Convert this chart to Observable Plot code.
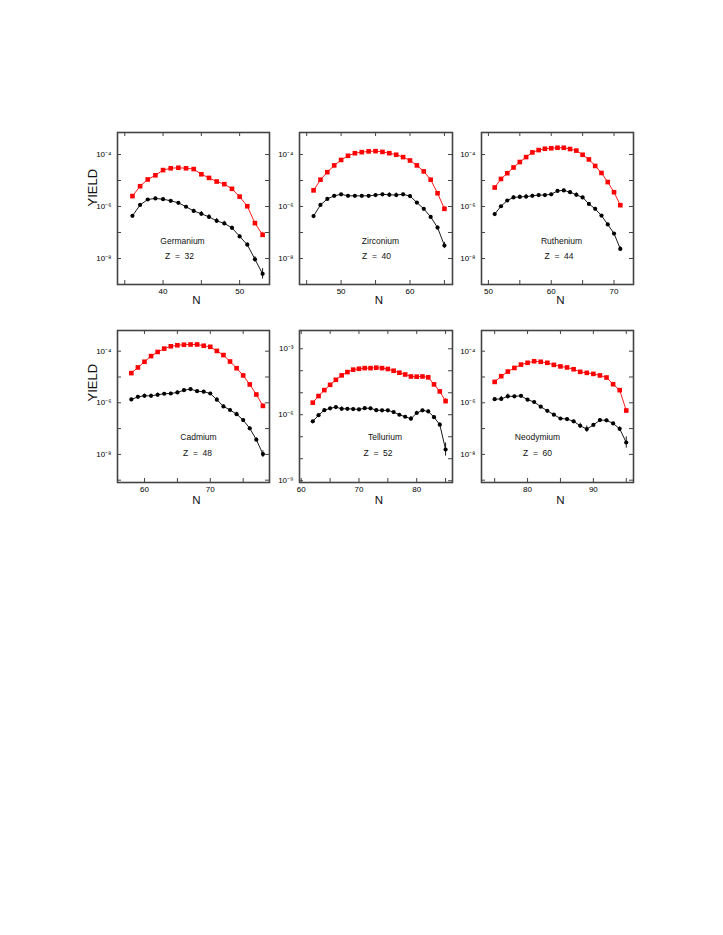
<!DOCTYPE html>
<html><head><meta charset="utf-8">
<script src="https://cdn.jsdelivr.net/npm/d3@7"></script>
<script src="https://cdn.jsdelivr.net/npm/@observablehq/plot@0.6"></script>
<style>
body{margin:0;background:#fff}
#chart{position:relative;width:723px;height:935px;background:#fff;overflow:hidden}
#chart svg{position:absolute;overflow:visible}
</style></head><body><div id="chart"></div>
<script>
// ---- Data (log10 of yield; error half-widths in dex) ----
const elements = ["Germanium", "Zirconium", "Ruthenium", "Cadmium", "Tellurium", "Neodymium"];
const zValues = [32, 40, 44, 48, 52, 60];

const geN = [36,37,38,39,40,41,42,43,44,45,46,47,48,49,50,51,52,53];
const geRed = [-5.60,-5.22,-4.96,-4.80,-4.60,-4.53,-4.51,-4.53,-4.56,-4.76,-4.90,-5.04,-5.14,-5.32,-5.62,-5.99,-6.64,-7.09];
const geRedErr = [0.03,0.03,0.03,0.03,0.03,0.03,0.03,0.03,0.03,0.03,0.03,0.03,0.03,0.04,0.04,0.05,0.07,0.10];
const geBlack = [-6.36,-5.94,-5.73,-5.69,-5.72,-5.78,-5.86,-6.01,-6.17,-6.28,-6.40,-6.55,-6.65,-6.82,-7.15,-7.47,-8.03,-8.59];
const geBlackErr = [0.03,0.03,0.03,0.04,0.04,0.04,0.04,0.05,0.06,0.09,0.09,0.09,0.08,0.07,0.06,0.07,0.10,0.20];

const zrN = [46,47,48,49,50,51,52,53,54,55,56,57,58,59,60,61,62,63,64,65];
const zrRed = [-5.38,-4.97,-4.68,-4.42,-4.21,-4.05,-3.95,-3.91,-3.88,-3.87,-3.90,-3.95,-4.01,-4.10,-4.23,-4.42,-4.65,-4.97,-5.49,-6.09];
const zrRedErr = [0.08,0.03,0.03,0.03,0.03,0.03,0.03,0.03,0.03,0.03,0.03,0.03,0.03,0.03,0.03,0.03,0.03,0.04,0.06,0.08];
const zrBlack = [-6.37,-5.94,-5.71,-5.59,-5.53,-5.59,-5.59,-5.59,-5.59,-5.56,-5.53,-5.55,-5.56,-5.53,-5.60,-5.85,-6.09,-6.40,-6.81,-7.50];
const zrBlackErr = [0.03,0.03,0.03,0.03,0.03,0.03,0.03,0.03,0.03,0.04,0.04,0.08,0.08,0.05,0.04,0.04,0.05,0.05,0.06,0.12];

const ruN = [51,52,53,54,55,56,57,58,59,60,61,62,63,64,65,66,67,68,69,70,71];
const ruRed = [-5.27,-4.94,-4.72,-4.50,-4.29,-4.10,-3.92,-3.83,-3.78,-3.76,-3.74,-3.74,-3.79,-3.85,-4.01,-4.19,-4.44,-4.71,-5.06,-5.45,-5.95];
const ruRedErr = [0.03,0.03,0.03,0.03,0.03,0.03,0.03,0.03,0.03,0.03,0.03,0.03,0.03,0.03,0.03,0.03,0.03,0.03,0.04,0.04,0.06];
const ruBlack = [-6.29,-5.99,-5.77,-5.65,-5.63,-5.62,-5.59,-5.56,-5.56,-5.53,-5.40,-5.38,-5.45,-5.55,-5.65,-5.90,-6.09,-6.35,-6.69,-7.04,-7.63];
const ruBlackErr = [0.03,0.03,0.04,0.06,0.07,0.09,0.06,0.04,0.04,0.04,0.04,0.04,0.05,0.08,0.04,0.04,0.06,0.04,0.04,0.04,0.08];

const cdN = [58,59,60,61,62,63,64,65,66,67,68,69,70,71,72,73,74,75,76,77,78];
const cdRed = [-4.85,-4.63,-4.41,-4.19,-4.03,-3.90,-3.81,-3.77,-3.75,-3.74,-3.74,-3.79,-3.83,-3.99,-4.15,-4.40,-4.66,-4.94,-5.29,-5.68,-6.12];
const cdRedErr = [0.03,0.03,0.03,0.03,0.03,0.03,0.03,0.03,0.03,0.03,0.03,0.03,0.03,0.03,0.03,0.03,0.03,0.03,0.04,0.05,0.07];
const cdBlack = [-5.87,-5.77,-5.73,-5.73,-5.69,-5.65,-5.64,-5.60,-5.51,-5.47,-5.55,-5.57,-5.64,-5.88,-6.14,-6.28,-6.44,-6.67,-6.99,-7.43,-7.99];
const cdBlackErr = [0.03,0.06,0.07,0.07,0.07,0.05,0.05,0.05,0.05,0.05,0.04,0.05,0.05,0.08,0.05,0.06,0.07,0.05,0.05,0.07,0.13];

const teN = [62,63,64,65,66,67,68,69,70,71,72,73,74,75,76,77,78,79,80,81,82,83,84,85];
const teRed = [-5.45,-5.15,-4.88,-4.64,-4.41,-4.21,-4.06,-3.95,-3.91,-3.88,-3.88,-3.86,-3.88,-3.92,-4.00,-4.09,-4.17,-4.26,-4.27,-4.26,-4.30,-4.62,-4.94,-5.38];
const teRedErr = [0.04,0.04,0.04,0.04,0.04,0.04,0.04,0.04,0.04,0.04,0.04,0.04,0.04,0.04,0.04,0.04,0.04,0.04,0.04,0.04,0.04,0.05,0.06,0.12];
const teBlack = [-6.30,-6.02,-5.79,-5.71,-5.65,-5.73,-5.73,-5.74,-5.76,-5.70,-5.71,-5.79,-5.80,-5.80,-5.88,-6.00,-6.09,-6.18,-5.92,-5.80,-5.85,-6.11,-6.45,-7.58];
const teBlackErr = [0.04,0.04,0.04,0.04,0.05,0.09,0.05,0.05,0.05,0.05,0.05,0.05,0.05,0.05,0.05,0.05,0.06,0.10,0.08,0.05,0.06,0.06,0.08,0.30];

const ndN = [75,76,77,78,79,80,81,82,83,84,85,86,87,88,89,90,91,92,93,94,95];
const ndRed = [-5.19,-4.97,-4.79,-4.65,-4.52,-4.45,-4.39,-4.41,-4.45,-4.53,-4.59,-4.63,-4.70,-4.80,-4.84,-4.88,-4.94,-5.02,-5.28,-5.51,-6.30];
const ndRedErr = [0.03,0.03,0.03,0.03,0.03,0.03,0.03,0.03,0.03,0.03,0.03,0.03,0.03,0.03,0.03,0.03,0.03,0.03,0.04,0.04,0.05];
const ndBlack = [-5.86,-5.85,-5.75,-5.75,-5.73,-5.88,-5.97,-6.15,-6.31,-6.46,-6.61,-6.63,-6.72,-6.89,-7.02,-6.86,-6.67,-6.68,-6.80,-7.01,-7.54];
const ndBlackErr = [0.05,0.10,0.09,0.05,0.05,0.04,0.04,0.04,0.04,0.04,0.04,0.04,0.05,0.10,0.12,0.05,0.06,0.05,0.05,0.08,0.22];

// Tick values
const xTickStep = 5, xLabelStep = 10;
const yLabelsStd = [-8, -6, -4];
const yLabelsTe = [-9, -6, -3];

// ---- Layout (pixel frames in the page) ----
const layout = [
  {left:117, top:132, w:152, h:152, x:[34.05,53.9], y:[-9.0,-3.154], yl:yLabelsStd, nameDx:-11, zDx:-14, nameDy:-41, zDy:-26, yield:true, yieldDy:-2, nDy:19},
  {left:299, top:132, w:153, h:152, x:[43.96,66.17], y:[-9.0,-3.154], yl:yLabelsStd, nameDx:4.5, zDx:0.5, nameDy:-41, zDy:-26, nDy:19},
  {left:481, top:132, w:152, h:152, x:[48.9,73.1], y:[-9.0,-3.154], yl:yLabelsStd, nameDx:4, zDx:1.5, nameDy:-41, zDy:-26, nDy:19},
  {left:117, top:330, w:152, h:152, x:[55.9,79.0], y:[-9.09,-3.198], yl:yLabelsStd, nameDx:5, zDx:4, nameDy:-42.5, zDy:-27, yield:true, yieldDy:-5, nDy:21},
  {left:299, top:330, w:153, h:152, x:[59.7,86.2], y:[-9.08,-2.17], yl:yLabelsTe, nameDx:9, zDx:2, nameDy:-42.5, zDy:-27, nDy:21},
  {left:481, top:330, w:152, h:152, x:[73.0,96.1], y:[-9.09,-3.198], yl:yLabelsStd, nameDx:-20, zDx:-20, nameDy:-42.5, zDy:-27, nDy:21}
];

const series = [
  [geN, geRed, geRedErr, geBlack, geBlackErr],
  [zrN, zrRed, zrRedErr, zrBlack, zrBlackErr],
  [ruN, ruRed, ruRedErr, ruBlack, ruBlackErr],
  [cdN, cdRed, cdRedErr, cdBlack, cdBlackErr],
  [teN, teRed, teRedErr, teBlack, teBlackErr],
  [ndN, ndRed, ndRedErr, ndBlack, ndBlackErr]
];

const sup = {"-":"\u207B","0":"\u2070","1":"\u00B9","2":"\u00B2","3":"\u00B3","4":"\u2074","5":"\u2075","6":"\u2076","7":"\u2077","8":"\u2078","9":"\u2079"};
const fmtExp = d => "10" + String(Math.round(Math.log10(d))).split("").map(c => sup[c]).join("");

const FONT = "'Liberation Sans', Arial, Helvetica, sans-serif";
const NARROW = "'Liberation Sans Narrow', 'Liberation Sans', Arial, sans-serif";
const FRAME = "#444";
const RED = "#ff0000";
const M = {l:45, r:12, t:12, b:32};

const chart = document.getElementById("chart");

series.forEach(([N, red, redErr, black, blackErr], i) => {
  const L = layout[i];
  const redRows = N.map((n, j) => ({N: n, v: 10 ** red[j], lo: 10 ** (red[j] - redErr[j]), hi: 10 ** (red[j] + redErr[j])}));
  const blackRows = N.map((n, j) => ({N: n, v: 10 ** black[j], lo: 10 ** (black[j] - blackErr[j]), hi: 10 ** (black[j] + blackErr[j])}));
  const xTicks = d3.range(Math.ceil(L.x[0] / xTickStep) * xTickStep, L.x[1] + 1e-9, xTickStep);
  const xLabels = xTicks.filter(t => t % xLabelStep === 0);
  const yTicks = d3.range(Math.ceil(L.y[0] - 1e-6), Math.floor(L.y[1]) + 1).map(e => 10 ** e);
  const yLabels = L.yl.map(e => 10 ** e);

  const marks = [
    Plot.ruleY(yTicks, {y: d => d, insetRight: L.w - 4, stroke: FRAME, strokeWidth: 1}),
    Plot.ruleY(yTicks, {y: d => d, insetLeft: L.w - 4, stroke: FRAME, strokeWidth: 1}),
    Plot.ruleX(xTicks, {x: d => d, insetTop: L.h - 4, stroke: FRAME, strokeWidth: 1}),
    Plot.ruleX(xTicks, {x: d => d, insetBottom: L.h - 4, stroke: FRAME, strokeWidth: 1}),
    Plot.frame({stroke: FRAME, strokeWidth: 1.6}),
    Plot.axisY(yLabels, {tickSize: 0, tickPadding: 6, tickFormat: fmtExp, fontSize: 8, fill: "#000", label: null}),
    Plot.axisX(xLabels, {tickSize: 0, tickPadding: 4, tickFormat: d => String(d), fontSize: 8, fill: "#000", label: null}),
    // black series
    Plot.ruleX(blackRows, {x: "N", y1: "lo", y2: "hi", stroke: "#000", strokeWidth: 0.9}),
    Plot.line(blackRows, {x: "N", y: "v", stroke: "#000", strokeWidth: 0.9}),
    Plot.dot(blackRows, {x: "N", y: "v", r: 2.1, fill: "#000", stroke: "none"}),
    // red series
    Plot.ruleX(redRows, {x: "N", y1: "lo", y2: "hi", stroke: RED, strokeWidth: 0.9}),
    Plot.line(redRows, {x: "N", y: "v", stroke: RED, strokeWidth: 0.9}),
    Plot.dot(redRows, {x: "N", y: "v", symbol: "square", r: 2.6, fill: RED, stroke: "none"}),
    // labels
    Plot.text([elements[i]], {text: d => d, frameAnchor: "bottom", dx: L.nameDx, dy: L.nameDy, fontSize: 8.5, fill: "#111"}),
    Plot.text(["Z\u00A0\u00A0=\u00A0\u00A0" + zValues[i]], {text: d => d, frameAnchor: "bottom", dx: L.zDx, dy: L.zDy, fontSize: 8.5, fill: "#111"}),
    Plot.text(["N"], {text: d => d, frameAnchor: "bottom", dx: 3, dy: L.nDy, fontSize: 11.5, fontFamily: NARROW, fill: "#111"})
  ];
  if (L.yield) {
    marks.push(Plot.text(["YIELD"], {text: d => d, frameAnchor: "left", dx: -25, dy: L.yieldDy, rotate: -90, fontSize: 13, fontFamily: NARROW, fill: "#111"}));
  }

  const svg = Plot.plot({
    width: L.w + M.l + M.r,
    height: L.h + M.t + M.b,
    marginLeft: M.l, marginRight: M.r, marginTop: M.t, marginBottom: M.b,
    style: {fontFamily: FONT, background: "transparent", overflow: "visible"},
    x: {type: "linear", domain: L.x},
    y: {type: "log", domain: [10 ** L.y[0], 10 ** L.y[1]]},
    marks
  });
  svg.style.left = (L.left - M.l) + "px";
  svg.style.top = (L.top - M.t) + "px";
  chart.appendChild(svg);
});
</script></body></html>
